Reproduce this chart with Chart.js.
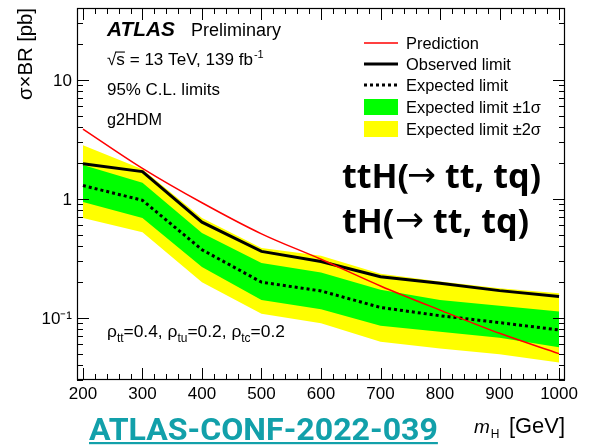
<!DOCTYPE html>
<html><head><meta charset="utf-8">
<script src="https://cdn.jsdelivr.net/npm/chart.js@4.4.1/dist/chart.umd.min.js"></script>
<style>html,body{margin:0;padding:0;background:#fff;}canvas{display:block;}</style>
</head><body>
<canvas id="c" width="599" height="445"></canvas>
<script>
// ---- data ----
const MASS       = [200, 300, 400, 500, 600, 700, 800, 900, 1000];
const OBSERVED   = [1.97, 1.69, 0.635, 0.361, 0.297, 0.221, 0.195, 0.169, 0.151];
const EXPECTED   = [1.29, 0.97, 0.373, 0.199, 0.168, 0.122, 0.104, 0.091, 0.079];
const EXP_1S_UP  = [1.92, 1.36, 0.516, 0.288, 0.240, 0.172, 0.141, 0.126, 0.113];
const EXP_1S_DN  = [0.937, 0.69, 0.267, 0.141, 0.118, 0.0857, 0.0763, 0.068, 0.0564];
const EXP_2S_UP  = [2.82, 1.77, 0.69, 0.386, 0.332, 0.234, 0.202, 0.177, 0.161];
const EXP_2S_DN  = [0.69, 0.523, 0.199, 0.108, 0.0898, 0.0628, 0.0552, 0.0494, 0.042];
const PREDICTION = [3.85, 1.80, 0.925, 0.507, 0.31, 0.185, 0.116, 0.074, 0.050];
const X_TICKS = [200, 300, 400, 500, 600, 700, 800, 900, 1000];
const Y_TICKS = [0.1, 1, 10];
const Y_TICK_LABELS = ['10\u207B\u00B9', '1', '10'];
const LEGEND_LABELS = ['Prediction', 'Observed limit', 'Expected limit', 'Expected limit \u00B11\u03C3', 'Expected limit \u00B12\u03C3'];

const SANS = '"Liberation Sans", Arial, Helvetica, sans-serif';
const NOTO = '"Noto Sans", "Open Sans", sans-serif';
const mctx = document.createElement('canvas').getContext('2d');
function fit(text, style, family, target) {
  mctx.font = style + ' 100px ' + family;
  return 100 * target / mctx.measureText(text).width;
}
const yTitleSize = fit('\u03C3\u00D7BR [pb]', '', SANS, 92);

function pts(ys) { return MASS.map((m, i) => ({ x: m, y: ys[i] })); }

const rootAxes = {
  id: 'rootAxes',
  afterDatasetsDraw(chart) {
    const { ctx, chartArea: a, scales: { x, y } } = chart;
    ctx.save();
    ctx.strokeStyle = '#000';
    ctx.lineWidth = 1;
    const seg = (x1, y1, x2, y2) => { ctx.beginPath(); ctx.moveTo(x1, y1); ctx.lineTo(x2, y2); ctx.stroke(); };
    for (let v = 200; v <= 1000; v += 20) {
      const px = Math.round(x.getPixelForValue(v)) + 0.5;
      const len = v % 100 === 0 ? 12 : 6;
      seg(px, a.bottom, px, a.bottom - len);
      seg(px, a.top, px, a.top + len);
    }
    for (let e = -2; e <= 1; e++) {
      for (let k = 1; k <= 9; k++) {
        const v = k * Math.pow(10, e);
        if (v < y.min || v > y.max) continue;
        const py = Math.round(y.getPixelForValue(v)) + 0.5;
        const len = k === 1 ? 12 : 6;
        seg(a.left, py, a.left + len, py);
        seg(a.right, py, a.right - len, py);
      }
    }
    ctx.lineWidth = 1.2;
    ctx.strokeRect(a.left + 0.5, a.top + 0.5, a.right - a.left - 1, a.bottom - a.top - 1);
    ctx.restore();
  },
  afterDraw(chart) {
    const ctx = chart.ctx;
    ctx.save();
    ctx.fillStyle = '#000';
    ctx.textBaseline = 'alphabetic';
    ctx.textAlign = 'left';
    const txt = (t, x, y, style, family, target) => {
      const s = fit(t, style, family, target);
      ctx.font = style + ' ' + s.toFixed(2) + 'px ' + family;
      ctx.fillText(t, x, y);
      return ctx.measureText(t).width;
    };
    // ATLAS label block
    txt('ATLAS', 107, 36, 'italic bold', SANS, 68);
    txt('Preliminary', 191, 36, '', SANS, 90);
    const w1 = txt('\u221As = 13 TeV, 139 fb', 107, 65, '', SANS, 146);
    const rw = ctx.measureText('\u221A').width, sw = ctx.measureText('\u221As').width;
    ctx.fillRect(107 + rw - 1, 51.5, sw - rw + 1, 1.1);
    ctx.font = '11px ' + SANS;
    ctx.fillText('-1', 107 + w1 + 1, 58);
    txt('95% C.L. limits', 107, 95, '', SANS, 113);
    txt('g2HDM', 107, 125, '', SANS, 55);
    // rho line
    const rhoParts = [['\u03C1', 0], ['tt', 1], ['=0.4, ', 0], ['\u03C1', 0], ['tu', 1], ['=0.2, ', 0], ['\u03C1', 0], ['tc', 1], ['=0.2', 0]];
    let tot = 0;
    for (const [t, sub] of rhoParts) { ctx.font = (sub ? '11px ' : '16px ') + SANS; tot += ctx.measureText(t).width; }
    const k = 178 / tot;
    let xx = 107;
    for (const [t, sub] of rhoParts) {
      ctx.font = ((sub ? 11 : 16) * k).toFixed(2) + 'px ' + SANS;
      ctx.fillText(t, xx, sub ? 342 : 337);
      xx += ctx.measureText(t).width;
    }
    // legend
    const lx0 = 364, lx1 = 398, tx = 406;
    const rows = [43, 64, 85, 107, 129];
    const ls = fit(LEGEND_LABELS[4], '', SANS, 135);
    ctx.font = ls.toFixed(2) + 'px ' + SANS;
    ctx.textBaseline = 'middle';
    LEGEND_LABELS.forEach((l, i) => ctx.fillText(l, tx, rows[i] + 1));
    ctx.strokeStyle = '#ff0000'; ctx.lineWidth = 1.5;
    ctx.beginPath(); ctx.moveTo(lx0, rows[0]); ctx.lineTo(lx1, rows[0]); ctx.stroke();
    ctx.strokeStyle = '#000'; ctx.lineWidth = 3;
    ctx.beginPath(); ctx.moveTo(lx0, rows[1]); ctx.lineTo(lx1, rows[1]); ctx.stroke();
    ctx.setLineDash([3, 3]);
    ctx.beginPath(); ctx.moveTo(lx0, rows[2]); ctx.lineTo(lx1, rows[2]); ctx.stroke();
    ctx.setLineDash([]);
    ctx.fillStyle = '#00ff00'; ctx.fillRect(lx0, rows[3] - 8, lx1 - lx0, 16);
    ctx.fillStyle = '#ffff00'; ctx.fillRect(lx0, rows[4] - 8, lx1 - lx0, 16);
    // big process labels, drawn piecewise with a thin long arrow
    ctx.fillStyle = '#000';
    ctx.textBaseline = 'alphabetic';
    const bs = fit('tt, tq)', 'bold', NOTO, 96);
    const bfont = 'bold ' + bs.toFixed(2) + 'px ' + NOTO;
    const afont = fit('\u2192', '', '"DejaVu Sans"', 29).toFixed(2) + 'px "DejaVu Sans", sans-serif';
    const bigLine = (pre, x0, ax, px, base) => {
      ctx.font = bfont; ctx.fillText(pre, x0, base);
      ctx.font = afont; ctx.fillText('\u2192', ax, base - 2);
      ctx.font = bfont; ctx.fillText('tt, tq)', px, base);
    };
    bigLine('ttH(', 342, 407, 445, 188);
    bigLine('tH(', 342, 395, 433, 233);
    // x axis title
    ctx.font = 'italic 19px ' + SANS;
    ctx.fillText('m', 474, 433);
    const mw = ctx.measureText('m').width;
    ctx.font = '12px ' + SANS;
    ctx.fillText('H', 474 + mw + 1, 438);
    txt('[GeV]', 509, 433, '', SANS, 56);
    // conference note label
    const ROB = 'Roboto, "Noto Sans", sans-serif';
    ctx.fillStyle = '#12a0aa';
    const cw = txt('ATLAS-CONF-2022-039', 89, 440, 'bold', ROB, 349);
    ctx.fillRect(89, 442, cw, 2.2);
    ctx.restore();
  }
};

function zeroPad(s) { s.paddingTop = 0; s.paddingBottom = 0; s.paddingLeft = 0; s.paddingRight = 0; }

new Chart(document.getElementById('c'), {
  type: 'line',
  data: {
    datasets: [
      { label: 'Expected limit \u00B12\u03C3', data: pts(EXP_2S_UP), fill: 1, backgroundColor: '#ffff00', borderColor: 'rgba(0,0,0,0)', borderWidth: 0, pointRadius: 0, order: 10 },
      { label: '-2s', data: pts(EXP_2S_DN), fill: false, borderColor: 'rgba(0,0,0,0)', borderWidth: 0, pointRadius: 0, order: 10 },
      { label: 'Expected limit \u00B11\u03C3', data: pts(EXP_1S_UP), fill: 3, backgroundColor: '#00ff00', borderColor: 'rgba(0,0,0,0)', borderWidth: 0, pointRadius: 0, order: 9 },
      { label: '-1s', data: pts(EXP_1S_DN), fill: false, borderColor: 'rgba(0,0,0,0)', borderWidth: 0, pointRadius: 0, order: 9 },
      { label: 'Expected limit', data: pts(EXPECTED), fill: false, borderColor: '#000', borderWidth: 3, borderDash: [3, 3], pointRadius: 0, order: 3 },
      { label: 'Observed limit', data: pts(OBSERVED), fill: false, borderColor: '#000', borderWidth: 3, pointRadius: 0, order: 2 },
      { label: 'Prediction', data: pts(PREDICTION), fill: false, borderColor: '#ff0000', borderWidth: 1.5, pointRadius: 0, cubicInterpolationMode: 'monotone', order: 1 }
    ]
  },
  options: {
    responsive: false,
    animation: false,
    layout: { padding: { left: 0, right: 34, top: 8, bottom: 0 } },
    plugins: { legend: { display: false }, tooltip: { enabled: false } },
    scales: {
      x: {
        type: 'linear', min: 190, max: 1010,
        grid: { display: false, drawTicks: false }, border: { display: false },
        afterBuildTicks: (s) => { s.ticks = X_TICKS.map(v => ({ value: v })); },
        afterFit: (s) => { s.height = 65; zeroPad(s); },
        ticks: { autoSkip: false, maxRotation: 0, padding: 4, color: '#000', font: { family: SANS, size: 17 }, callback: (v) => String(v) }
      },
      y: {
        type: 'logarithmic', min: 0.03, max: 40,
        grid: { display: false, drawTicks: false }, border: { display: false },
        afterBuildTicks: (s) => { s.ticks = Y_TICKS.map(v => ({ value: v })); },
        afterFit: (s) => { s.width = 77; zeroPad(s); },
        ticks: { autoSkip: false, padding: 5, labelOffset: 2, color: '#000', font: { family: SANS, size: 17 }, callback: (v) => Y_TICK_LABELS[Y_TICKS.indexOf(v)] },
        title: { display: true, text: '\u03C3\u00D7BR [pb]', align: 'end', color: '#000', font: { family: SANS, size: yTitleSize }, padding: { top: 14, bottom: 0 } }
      }
    }
  },
  plugins: [rootAxes]
});
</script>
</body></html>
